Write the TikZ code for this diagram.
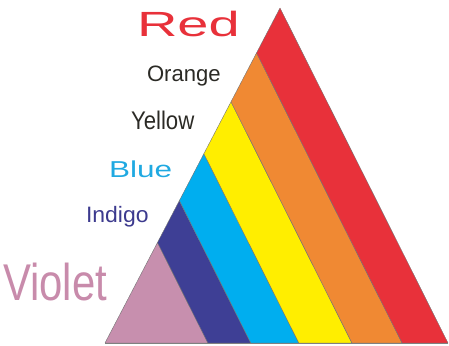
\documentclass[tikz,border=0pt]{standalone}
\usepackage{fontspec}
\setmainfont{Liberation Sans}
\usetikzlibrary{calc}
\definecolor{cRed}{HTML}{E8313A}
\definecolor{cOrange}{HTML}{F08933}
\definecolor{cYellow}{HTML}{FFEE00}
\definecolor{cBlue}{HTML}{00AEEF}
\definecolor{cIndigo}{HTML}{3E3F95}
\definecolor{cViolet}{HTML}{C78FAE}
\definecolor{tDark}{HTML}{2B2A25}
\definecolor{tBlue}{HTML}{1FA9E1}
\definecolor{tIndigo}{HTML}{3C3A8E}
\definecolor{tViolet}{HTML}{C88BAB}
\begin{document}
\begin{tikzpicture}[x=1pt,y=-1pt,
  band/.style={draw=black!55,line width=0.4pt,line join=round},
  lbl/.style={anchor=base west,inner sep=0pt,outer sep=0pt}]
\useasboundingbox (0,0) rectangle (449,345);
\coordinate (A) at (105,343);
\coordinate (B) at (448,343);
\coordinate (C) at (280,8);
\foreach \n/\f in {1/0.30,2/0.425,3/0.565,4/0.72,5/0.866}{
  \coordinate (L\n) at ($(A)!\f!(C)$);
  \coordinate (S\n) at ($(A)!\f!(B)$);
}
\fill[cViolet,band] (A) -- (L1) -- (S1) -- cycle;
\fill[cIndigo,band] (L1) -- (L2) -- (S2) -- (S1) -- cycle;
\fill[cBlue,band] (L2) -- (L3) -- (S3) -- (S2) -- cycle;
\fill[cYellow,band] (L3) -- (L4) -- (S4) -- (S3) -- cycle;
\fill[cOrange,band] (L4) -- (L5) -- (S5) -- (S4) -- cycle;
\fill[cRed,band] (L5) -- (C) -- (B) -- (S5) -- cycle;
\draw[black!50,line width=0.8pt] (A) -- (B);
\node[lbl,text=cRed,font=\fontsize{35}{38}\selectfont] (tred) at (137,37) {\scalebox{1.6}[1]{Red}};
\node[lbl,text=tDark,font=\fontsize{22.3}{24}\selectfont] (torange) at (147,81) {\scalebox{0.99}[1]{Orange}};
\node[lbl,text=tDark,font=\fontsize{25.5}{27}\selectfont] (tyellow) at (131,129) {\scalebox{0.87}[1]{Yellow}};
\node[lbl,text=tBlue,font=\fontsize{23}{25}\selectfont] (tblue) at (109,177) {\scalebox{1.37}[1]{Blue}};
\node[lbl,text=tIndigo,font=\fontsize{22.3}{24}\selectfont] (tindigo) at (86,222) {\scalebox{1.03}[1]{Indigo}};
\node[lbl,text=tViolet,font=\fontsize{51.7}{54}\selectfont] (tviolet) at (3,300) {\scalebox{0.81}[1]{Violet}};
\end{tikzpicture}
\end{document}
